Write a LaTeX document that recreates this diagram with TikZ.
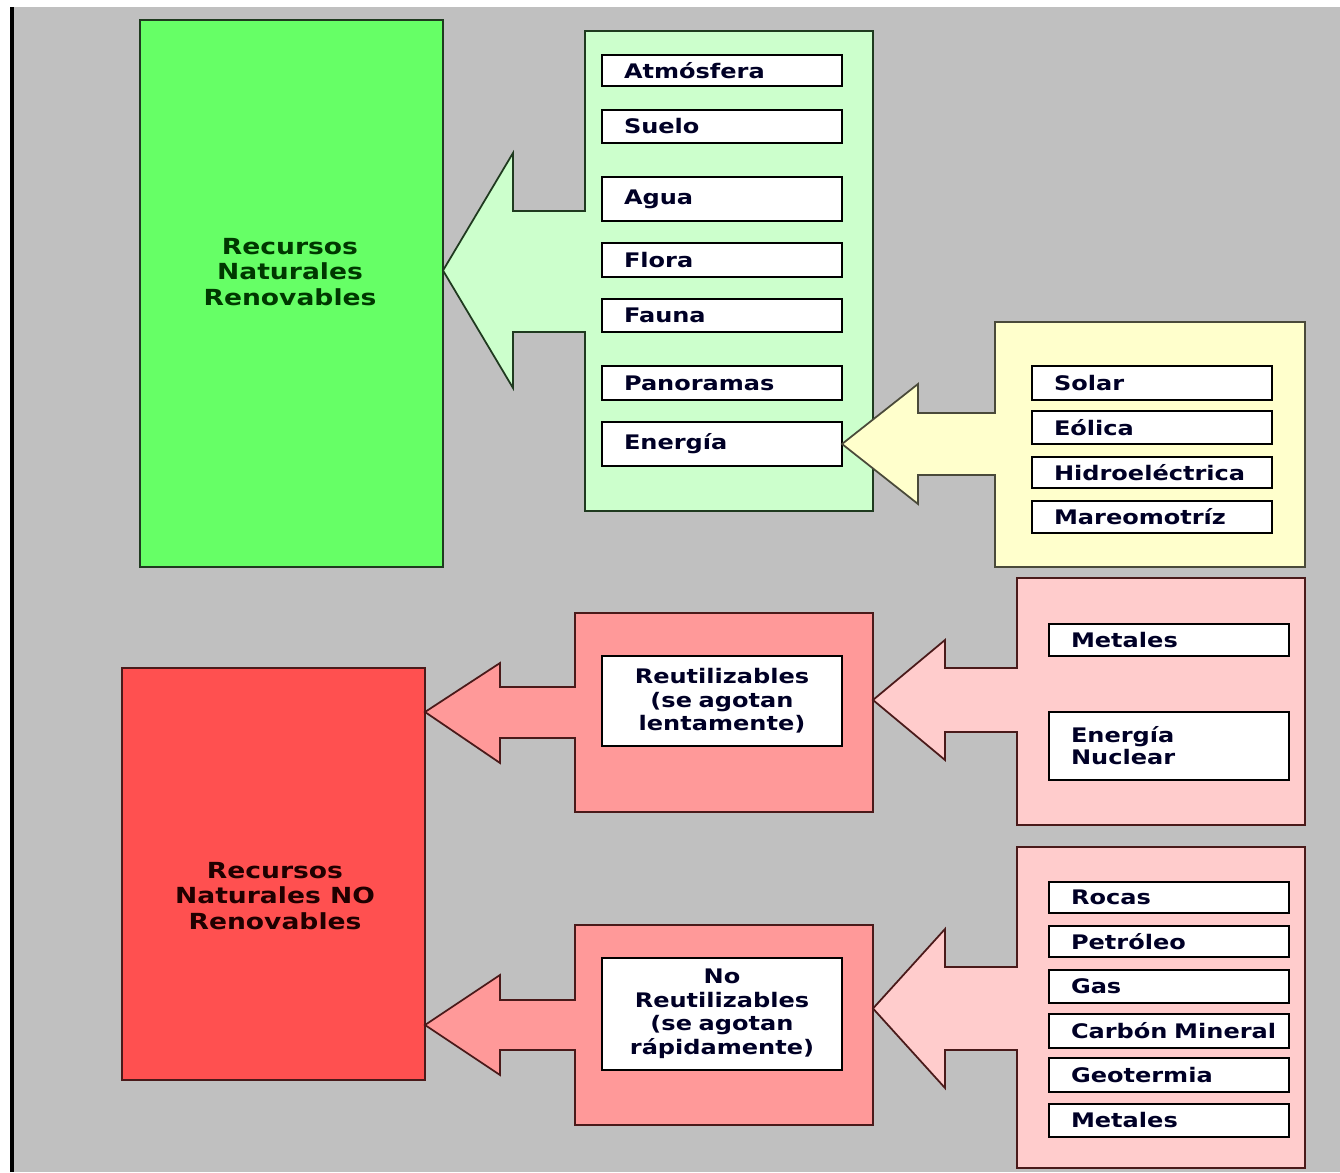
\documentclass[tikz,border=0pt]{standalone}
\usepackage{fontspec}
\usepackage{tikz}
\newfontfamily\boxfont{DejaVu Sans}[FakeStretch=1.2]

\definecolor{bggray}{HTML}{C0C0C0}
\definecolor{renovgreen}{HTML}{66FF66}
\definecolor{lightgreen}{HTML}{CCFFCC}
\definecolor{lightyellow}{HTML}{FFFFCC}
\definecolor{norenovred}{HTML}{FF5050}
\definecolor{midpink}{HTML}{FF9999}
\definecolor{lightpink}{HTML}{FFCCCC}
\definecolor{greenedge}{HTML}{1F3A1F}
\definecolor{rededge}{HTML}{4A1A1A}
\definecolor{yellowedge}{HTML}{4A4A3A}

\tikzset{
  bigbox/.style={draw, line width=1pt, rectangle, inner sep=0pt},
  bigtext/.style={font=\boxfont\bfseries\fontsize{12.6}{14.7}\selectfont, align=center},
  itembox/.style={draw=black, fill=white, line width=1pt, rectangle,
    inner xsep=0.44cm, inner ysep=0pt, text width=3.92cm, align=left,
    minimum height=0.66cm, font=\boxfont\bfseries\fontsize{11.4}{13.4}\selectfont,
    text=black!85!blue},
  groupbox/.style={itembox, align=center}
}

\begin{document}
\begin{tikzpicture}

\useasboundingbox ( 0, 0 ) rectangle ( 26.8, 23.44 );

% Background
\fill [white] ( 0, 0 ) rectangle ( 26.8, 23.44 );
\fill [bggray] ( 0.28, 0 ) rectangle ( 26.8, 23.3 );
\draw [line width=0.08cm] ( 0.24, 0 ) -- ( 0.24, 23.3 );

% Renovables
\node [bigbox, fill=renovgreen, draw=greenedge, minimum width=6.06cm, minimum height=10.94cm] (renov) at ( 5.83, 17.57 ) {};
\node [bigtext, text=green!22!black] (renovtxt) at ( 5.8, 18.0 ) {Recursos\\Naturales\\Renovables};

% Renovables list with arrow
\filldraw [fill=lightgreen, draw=greenedge, line width=1pt] ( 11.7, 22.82 ) -- ( 17.46, 22.82 ) -- ( 17.46, 13.22 ) -- ( 11.7, 13.22 )
  -- ( 11.7, 16.8 ) -- ( 10.26, 16.8 ) -- ( 10.26, 15.68 ) -- ( 8.86, 18.03 ) -- ( 10.26, 20.38 ) -- ( 10.26, 19.22 ) -- ( 11.7, 19.22 ) -- cycle;

\node [itembox, minimum height=0.62cm] (atmosfera) at ( 14.44, 22.03 ) {Atmósfera};
\node [itembox] (suelo) at ( 14.44, 20.91 ) {Suelo};
\node [itembox, minimum height=0.88cm] (agua) at ( 14.44, 19.46 ) {Agua};
\node [itembox, minimum height=0.68cm] (flora) at ( 14.44, 18.24 ) {Flora};
\node [itembox] (fauna) at ( 14.44, 17.13 ) {Fauna};
\node [itembox, minimum height=0.68cm] (panoramas) at ( 14.44, 15.78 ) {Panoramas};
\node [itembox, minimum height=0.88cm] (energia) at ( 14.44, 14.56 ) {Energía};

% Energy list with arrow
\filldraw [fill=lightyellow, draw=yellowedge, line width=1pt] ( 19.9, 17.0 ) -- ( 26.1, 17.0 ) -- ( 26.1, 12.1 ) -- ( 19.9, 12.1 )
  -- ( 19.9, 13.94 ) -- ( 18.36, 13.94 ) -- ( 18.36, 13.36 ) -- ( 16.84, 14.56 ) -- ( 18.36, 15.76 ) -- ( 18.36, 15.18 ) -- ( 19.9, 15.18 ) -- cycle;

\node [itembox, minimum height=0.68cm] (solar) at ( 23.04, 15.78 ) {Solar};
\node [itembox] (eolica) at ( 23.04, 14.89 ) {Eólica};
\node [itembox, minimum height=0.62cm] (hidro) at ( 23.04, 13.99 ) {Hidroeléctrica};
\node [itembox, minimum height=0.64cm] (mareo) at ( 23.04, 13.1 ) {Mareomotríz};

% No renovables
\node [bigbox, fill=norenovred, draw=rededge, minimum width=6.06cm, minimum height=8.24cm] (norenov) at ( 5.47, 5.96 ) {};
\node [bigtext, text=red!12!black] (norenovtxt) at ( 5.5, 5.52 ) {Recursos\\Naturales NO\\Renovables};

% Reutilizables
\filldraw [fill=midpink, draw=rededge, line width=1pt] ( 11.5, 11.18 ) -- ( 17.46, 11.18 ) -- ( 17.46, 7.2 ) -- ( 11.5, 7.2 )
  -- ( 11.5, 8.68 ) -- ( 10.0, 8.68 ) -- ( 10.0, 8.18 ) -- ( 8.5, 9.2 ) -- ( 10.0, 10.18 ) -- ( 10.0, 9.7 ) -- ( 11.5, 9.7 ) -- cycle;
\node [groupbox, minimum height=1.8cm] (reut) at ( 14.44, 9.42 ) {Reutilizables\\(se agotan\\lentamente)};

% No reutilizables
\filldraw [fill=midpink, draw=rededge, line width=1pt] ( 11.5, 4.94 ) -- ( 17.46, 4.94 ) -- ( 17.46, 0.94 ) -- ( 11.5, 0.94 )
  -- ( 11.5, 2.44 ) -- ( 10.0, 2.44 ) -- ( 10.0, 1.94 ) -- ( 8.5, 2.94 ) -- ( 10.0, 3.94 ) -- ( 10.0, 3.44 ) -- ( 11.5, 3.44 ) -- cycle;
\node [groupbox, minimum height=2.24cm] (noreut) at ( 14.44, 3.16 ) {No\\Reutilizables\\(se agotan\\rápidamente)};

% Reutilizables list
\filldraw [fill=lightpink, draw=rededge, line width=1pt] ( 20.34, 11.88 ) -- ( 26.1, 11.88 ) -- ( 26.1, 6.94 ) -- ( 20.34, 6.94 )
  -- ( 20.34, 8.8 ) -- ( 18.9, 8.8 ) -- ( 18.9, 8.24 ) -- ( 17.46, 9.44 ) -- ( 18.9, 10.64 ) -- ( 18.9, 10.08 ) -- ( 20.34, 10.08 ) -- cycle;

\node [itembox, minimum height=0.64cm] (metales) at ( 23.38, 10.64 ) {Metales};
\node [itembox, minimum height=1.36cm, font=\boxfont\bfseries\fontsize{11.4}{12.5}\selectfont] (nuclear) at ( 23.38, 8.52 ) {Energía\\Nuclear\\[2pt]};

% No reutilizables list
\filldraw [fill=lightpink, draw=rededge, line width=1pt] ( 20.34, 6.5 ) -- ( 26.1, 6.5 ) -- ( 26.1, 0.08 ) -- ( 20.34, 0.08 )
  -- ( 20.34, 2.44 ) -- ( 18.9, 2.44 ) -- ( 18.9, 1.68 ) -- ( 17.46, 3.27 ) -- ( 18.9, 4.86 ) -- ( 18.9, 4.1 ) -- ( 20.34, 4.1 ) -- cycle;

\node [itembox, minimum height=0.62cm] (rocas) at ( 23.38, 5.49 ) {Rocas};
\node [itembox, minimum height=0.62cm] (petroleo) at ( 23.38, 4.61 ) {Petróleo};
\node [itembox] (gas) at ( 23.38, 3.71 ) {Gas};
\node [itembox, minimum height=0.68cm] (carbon) at ( 23.38, 2.82 ) {\mbox{Carbón Mineral}};
\node [itembox, minimum height=0.68cm] (geotermia) at ( 23.38, 1.94 ) {Geotermia};
\node [itembox] (metales2) at ( 23.38, 1.03 ) {Metales};

\end{tikzpicture}
\end{document}
